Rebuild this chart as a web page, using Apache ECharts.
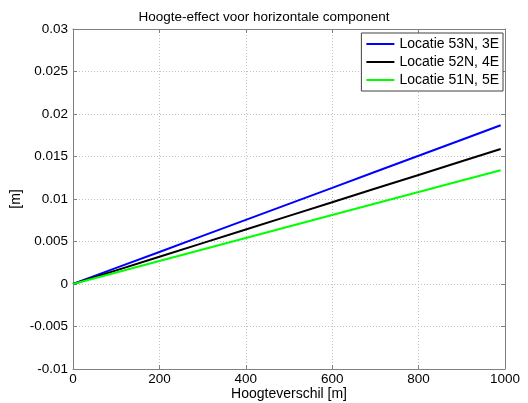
<!DOCTYPE html>
<html>
<head>
<meta charset="utf-8">
<script src="https://cdn.jsdelivr.net/npm/echarts@6/dist/echarts.min.js"></script>
<style>
html, body { margin: 0; padding: 0; background: #fff; }
#chart { width: 528px; height: 403px; }
</style>
</head>
<body>
<div id="chart"></div>
<script>
// Hoogteverschil [m] and the horizontal effect [m] per location
const heights = [0, 100, 200, 300, 400, 500, 600, 700, 800, 900, 990];
const loc53N3E = [0, 0.00189, 0.00377, 0.00566, 0.00754, 0.00943, 0.01131, 0.0132, 0.01509, 0.01697, 0.01867];
const loc52N4E = [0, 0.0016, 0.00321, 0.00481, 0.00642, 0.00802, 0.00962, 0.01123, 0.01283, 0.01444, 0.01588];
const loc51N5E = [0, 0.00135, 0.0027, 0.00406, 0.00541, 0.00676, 0.00811, 0.00946, 0.01082, 0.01217, 0.01338];

const fontFamily = '"Liberation Sans", Arial, sans-serif';
const axisGray = '#808080';
const fontSize = 13.5;

function pairs(values) {
  return heights.map((h, i) => [h, values[i]]);
}

const chart = echarts.init(document.getElementById('chart'), null, { renderer: 'canvas' });

const hiddenLabels = { show: false };
const innerTicks = { show: true, inside: true, length: 4, lineStyle: { color: axisGray } };
const dottedGrid = { show: true, lineStyle: { color: '#c0c0c0', type: [1, 2] } };

chart.setOption({
  animation: false,
  backgroundColor: '#fff',
  textStyle: { fontFamily: fontFamily },
  title: {
    text: 'Hoogte-effect voor horizontale component',
    left: 'center',
    top: 5,
    textStyle: { fontSize: fontSize, fontWeight: 'normal', color: '#000', fontFamily: fontFamily }
  },
  // keep the plot box fixed like the original figure
  grid: { left: 73, right: 23, top: 29, bottom: 34, containLabel: false, outerBoundsMode: 'none' },
  legend: {
    orient: 'vertical',
    right: 25,
    top: 33,
    itemWidth: 28,
    itemHeight: 14,
    itemGap: 4,
    padding: [4, 4, 4, 5],
    backgroundColor: '#fff',
    borderColor: '#404040',
    borderWidth: 1,
    icon: 'path://M0,6 L28,6 L28,8 L0,8 Z',
    textStyle: { fontSize: 14, color: '#000', fontFamily: fontFamily },
    data: ['Locatie 53N, 3E', 'Locatie 52N, 4E', 'Locatie 51N, 5E']
  },
  xAxis: [
    {
      type: 'value',
      min: 0,
      max: 1000,
      interval: 200,
      name: 'Hoogteverschil [m]',
      nameLocation: 'middle',
      nameGap: 18,
      nameMoveOverlap: false,
      nameTextStyle: { fontSize: 14, color: '#000', fontFamily: fontFamily },
      axisLine: { show: true, onZero: false, lineStyle: { color: axisGray } },
      axisTick: innerTicks,
      axisLabel: { fontSize: fontSize, color: '#000', margin: 3, fontFamily: fontFamily, formatter: v => String(v) },
      splitLine: dottedGrid
    },
    {
      type: 'value',
      position: 'top',
      min: 0,
      max: 1000,
      interval: 200,
      axisLine: { show: true, onZero: false, lineStyle: { color: axisGray } },
      axisTick: innerTicks,
      axisLabel: hiddenLabels,
      splitLine: { show: false }
    }
  ],
  yAxis: [
    {
      type: 'value',
      min: -0.01,
      max: 0.03,
      interval: 0.005,
      name: '[m]',
      nameLocation: 'middle',
      nameGap: 50,
      nameMoveOverlap: false,
      nameRotate: 90,
      nameTextStyle: { fontSize: 14, color: '#000', fontFamily: fontFamily },
      axisLine: { show: true, onZero: false, lineStyle: { color: axisGray } },
      axisTick: innerTicks,
      axisLabel: { fontSize: fontSize, color: '#000', margin: 5, fontFamily: fontFamily },
      splitLine: dottedGrid
    },
    {
      type: 'value',
      position: 'right',
      min: -0.01,
      max: 0.03,
      interval: 0.005,
      axisLine: { show: true, onZero: false, lineStyle: { color: axisGray } },
      axisTick: innerTicks,
      axisLabel: hiddenLabels,
      splitLine: { show: false }
    }
  ],
  series: [
    {
      name: 'Locatie 53N, 3E',
      type: 'line',
      data: pairs(loc53N3E),
      showSymbol: false,
      color: '#0000ff',
      lineStyle: { width: 2, color: '#0000ff' }
    },
    {
      name: 'Locatie 52N, 4E',
      type: 'line',
      data: pairs(loc52N4E),
      showSymbol: false,
      color: '#000000',
      lineStyle: { width: 2, color: '#000000' }
    },
    {
      name: 'Locatie 51N, 5E',
      type: 'line',
      data: pairs(loc51N5E),
      showSymbol: false,
      color: '#00ff00',
      lineStyle: { width: 2, color: '#00ff00' }
    }
  ]
});
</script>
</body>
</html>
